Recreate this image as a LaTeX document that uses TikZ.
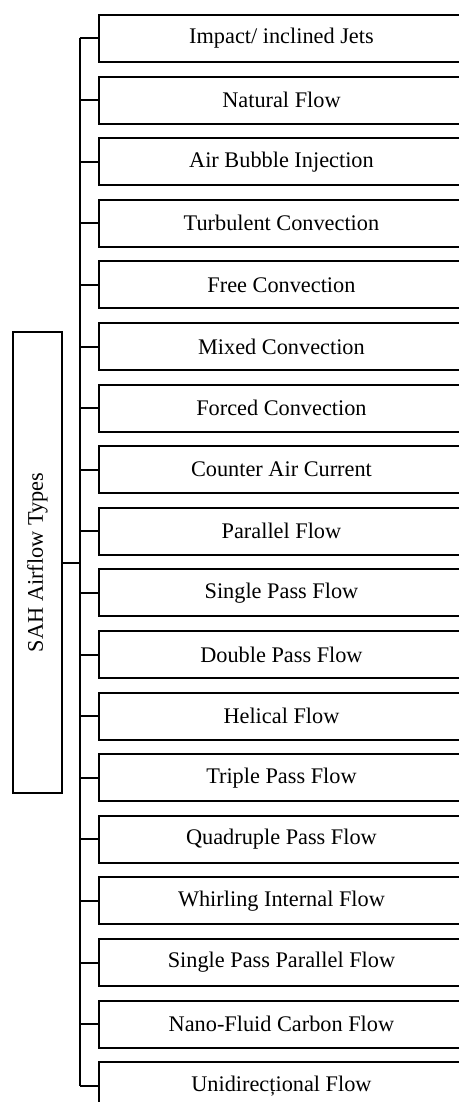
\documentclass[tikz,border=0pt]{standalone}
\usepackage{fontspec}
\setmainfont{Liberation Serif}
\newcommand{\rowpitch}{61.6}
\newcommand{\trunkx}{79.5}
\begin{document}
\begin{tikzpicture}[x=1pt,y=1pt]
        %\draw[help lines] (0,0) grid (458,-1102);
        \tikzset{FlowStyle/.style = {draw, line width=1.9pt, minimum width=365pt, minimum height=47pt, inner sep=0pt, font=\fontsize{22.3}{26}\selectfont}}
        \tikzset{RootStyle/.style = {draw, line width=1.9pt, minimum width=461pt, minimum height=49pt, inner sep=0pt, rotate=90, font=\fontsize{22.3}{26}\selectfont}}
        \tikzset{LinkStyle/.style = {line width=2pt, line cap=square}}
        \useasboundingbox (0,0) rectangle (458,-1102);
        \node[RootStyle] (SAH) at (37.5,-562.5) {SAH Airflow Types};
        \foreach \name [count=\i] in {{Impact/ inclined Jets}, Natural Flow, Air Bubble Injection,
            Turbulent Convection, Free Convection, Mixed Convection, Forced Convection,
            Counter Air Current, Parallel Flow, Single Pass Flow, Double Pass Flow, Helical Flow,
            Triple Pass Flow, Quadruple Pass Flow, Whirling Internal Flow,
            Single Pass Parallel Flow, Nano-Fluid Carbon Flow, Unidirecțional Flow}{
            \pgfmathsetmacro\rowy{-38.5-(\i-1)*\rowpitch}
            \node[FlowStyle, anchor=west] (F\i) at (98,\rowy) {\name};
            \coordinate (T\i) at (\trunkx,\rowy);
            \draw[LinkStyle] (T\i) -- (F\i.west);
        }
        \draw[LinkStyle] (T1) -- (T18);
        \draw[LinkStyle] (SAH.south) -- (SAH.south -| T1);
    \end{tikzpicture}
\end{document}
